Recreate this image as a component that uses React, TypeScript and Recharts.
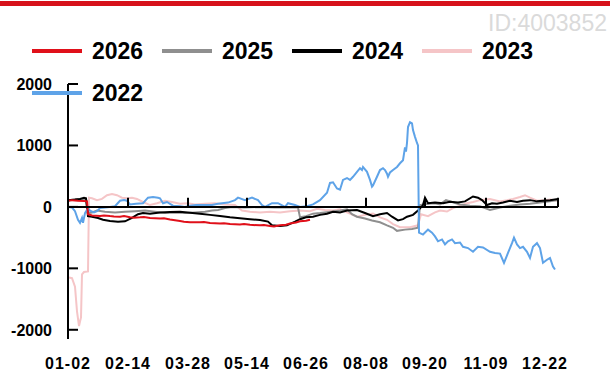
import { Legend, Line, LineChart, ReferenceLine, XAxis, YAxis } from "recharts";

const FONT = "'Liberation Sans', Arial, sans-serif";

// x = trading-day index (0..245), value = spread
const s2026 = [
  [0, 100], [2, 110], [5, 100], [8, 95], [9.5, 90], [10, -120], [12, -140], [16, -150], [18, -140],
  [21, -150], [23, -155], [26, -160], [28, -150], [31, -170], [33, -175], [36, -170], [38, -165],
  [41, -180], [46, -190], [48, -185], [51, -205], [56, -230], [58, -240], [61, -250], [66, -250],
  [68, -245], [71, -262], [76, -272], [78, -265], [81, -280], [86, -285], [88, -280], [91, -292],
  [96, -300], [98, -295], [101, -310], [103, -320], [106, -300], [109, -290], [111, -270],
  [114, -255], [116, -235], [119, -225], [121, -210],
];

const s2025 = [
  [0, 100], [3.5, 120], [6, 130], [9, 120], [10, -100], [12, -90], [14.5, -60], [18.5, -80],
  [23.5, -90], [28.5, -80], [33.5, -70], [38.5, -60], [43.5, -80], [48.5, -100], [53.5, -90],
  [58.5, -100], [63.5, -90], [68.5, -80], [72, -60], [75, -50], [78.5, -20], [82, 0], [88.5, -10],
  [96, 0], [103.5, -10], [111, -5], [115, -10], [116, -170], [119, -150], [122.5, -110], [126, -100],
  [132.5, -75], [136, -60], [139.5, -40], [142, -120], [144.5, -160], [148.5, -190], [152, -220],
  [156, -250], [159.5, -300], [162.5, -340], [164.5, -390], [168.5, -370], [172, -360], [175, -340],
  [176, 30], [180, 50], [183.5, 60], [186, 40], [189, 110], [192, 80], [196, 40], [201, 20],
  [206, 10], [208.5, -20], [211, -50], [213.5, -30], [216, -10], [221, 20], [226, 40], [231, 50],
  [236, 70], [241, 90], [245, 110],
];

const s2024 = [
  [0, 110], [3.5, 120], [6, 130], [8, 150], [9, 140], [10, -150], [12, -160], [15, -180],
  [17.5, -210], [21, -230], [25, -240], [28.5, -235], [32, -180], [35, -120], [37.5, -100],
  [41, -110], [46, -90], [51, -85], [56, -80], [61, -95], [66, -110], [71, -130], [76, -150],
  [81, -170], [86, -185], [91, -200], [96, -215], [100, -240], [102, -300], [106, -310],
  [109.5, -300], [113.5, -240], [116, -200], [119, -170], [122.5, -160], [126, -130],
  [129.5, -110], [132.5, -80], [136, -90], [139.5, -60], [144.5, -50], [148.5, -100],
  [152.5, -150], [156, -120], [159.5, -100], [162, -160], [165, -220], [167.5, -200],
  [169.5, -160], [172.5, -130], [175, -60], [177.5, 30], [178.5, 150], [180, 60], [183.5, 70],
  [187.5, 60], [191, 85], [195, 70], [198.5, 90], [202.5, 170], [205, 150], [207, 110],
  [209.5, 30], [212, 60], [214.5, 50], [217.5, 70], [221, 100], [224.5, 80], [227.5, 100],
  [231, 110], [234.5, 90], [237.5, 100], [241, 110], [245, 130],
];

const s2023 = [
  [0.5, -1150], [2, -1160], [3.5, -1300], [4.5, -1700], [5.5, -1940], [6.5, -1800], [7, -1100],
  [8, -1060], [10, -1050], [10.5, 150], [12, 140], [14.5, 110], [17, 130], [19.5, 190], [22, 210],
  [24.5, 190], [27, 150], [29.5, 140], [32, 150], [34.5, 130], [37.5, 80], [41, 30], [44.5, 60],
  [48.5, 100], [52, 80], [56, 50], [60, 60], [63.5, 40], [68.5, 50], [73.5, 60], [78.5, 40],
  [83.5, 30], [87, -60], [91, -80], [96, -90], [101, -80], [106, -90], [111, -70], [116, -60],
  [121, -70], [124.5, -30], [128.5, -50], [132.5, -60], [136, -40], [139.5, -90], [144.5, -160],
  [148.5, -130], [152.5, -110], [156, -170], [159.5, -210], [162.5, -280], [166, -330],
  [171, -330], [175, -300], [176.5, -120], [180, -150], [183.5, -90], [186, -60], [189.5, -75],
  [192.5, -20], [196, 20], [199.5, 60], [202.5, 80], [206, 110], [211, 130], [216, 90],
  [219.5, 110], [222.5, 130], [226, 160], [228.5, 190], [231, 150], [234.5, 100], [238.5, 110],
  [241, 120], [245, 100],
];

const s2022 = [
  [0, 0], [2, -10], [3.5, -70], [5, -210], [6, -260], [7, -180], [7.5, -260], [8.5, -100],
  [10, -20], [11, -60], [13, -90], [14.5, -70], [16, -20], [18.5, -10], [21, 0], [23.5, 10],
  [26, 100], [28, 110], [29.5, 100], [31, 40], [34, 50], [37.5, 60], [40, 150], [42.5, 160],
  [45, 150], [46, 140], [47.5, 60], [49.5, 80], [52.5, 20], [56, 10], [58.5, 0], [61, 20],
  [64, 30], [68.5, 30], [72, 30], [75, 50], [77, 60], [80, 70], [83.5, 110], [85, 150],
  [88.5, 110], [92, 150], [95, 110], [97, 30], [98.5, 0], [102, 60], [105, 60], [108.5, 0],
  [110, 60], [113.5, 30], [116, 0], [119.5, 10], [122.5, 40], [126, 110], [129.5, 230],
  [131, 390], [132.5, 400], [134.5, 300], [136, 280], [137.5, 440], [139.5, 470], [141, 440],
  [142.5, 490], [144.5, 570], [146, 630], [147, 600], [147.5, 650], [148.5, 610], [149.5, 570],
  [151, 440], [152, 330], [152.5, 350], [154.5, 490], [156, 600], [157.5, 630], [158.5, 600],
  [159.5, 540], [160, 490], [161, 560], [162.5, 600], [164.5, 650], [166, 710], [167.5, 760],
  [168.5, 970], [169, 900], [169.5, 1040], [170, 1300], [171, 1380], [172, 1360], [172.5, 1250],
  [173.5, 1140], [174.5, 1040], [175, 1000], [175.5, -420], [177.5, -450], [180, -370],
  [182, -420], [183.5, -480], [185, -560], [187, -530], [188.5, -610], [190, -560], [192, -530],
  [193.5, -590], [196, -580], [197.5, -650], [200, -670], [202.5, -730], [205, -650],
  [207.5, -660], [211, -730], [213.5, -750], [216, -760], [218, -910], [220, -750], [222, -590],
  [223, -500], [224.5, -610], [226, -670], [227.5, -650], [229.5, -730], [231, -830],
  [232.5, -650], [234.5, -590], [236, -670], [237.5, -910], [239.5, -860], [241, -830],
  [242.5, -970], [243.5, -1020],
];

const xTicks = [0, 30, 60, 89.5, 119, 149, 178.5, 209, 238.5];
const xEnd = 245;
const xLabels = ["01-02", "02-14", "03-28", "05-14", "06-26", "08-08", "09-20", "11-09", "12-22"];
const yTicks = [-2000, -1000, 0, 1000, 2000];

const series = [
  { name: "2026", color: "#e0101a", data: s2026 },
  { name: "2025", color: "#8f8f8f", data: s2025 },
  { name: "2024", color: "#000000", data: s2024 },
  { name: "2023", color: "#f5c5c7", data: s2023 },
  { name: "2022", color: "#5ea3e8", data: s2022 },
];
const drawOrder = ["2023", "2025", "2024", "2022", "2026"];

const toRows = (pts: number[][]) => pts.map(([d, v]) => ({ d, v }));

const YTick = (props: any) => {
  const { x, y, payload } = props;
  return (
    <g>
      <line x1={x} x2={x + 10} y1={y} y2={y} stroke="#000" strokeWidth={2} />
      <text x={x - 16} y={y} dy="0.36em" textAnchor="end" fontSize={16} fontWeight="bold" fontFamily={FONT} fill="#000">
        {payload.value}
      </text>
    </g>
  );
};

const LegendContent = () => (
  <div style={{ display: "flex", flexWrap: "wrap", width: 530 }}>
    {series.map((s) => (
      <div key={s.name} style={{ display: "flex", alignItems: "center", width: 130, height: 42 }}>
        <span style={{ display: "inline-block", width: 50, height: 4, background: s.color, marginRight: 10 }} />
        <span style={{ fontSize: 23, fontWeight: "bold", fontFamily: FONT, color: "#000" }}>{s.name}</span>
      </div>
    ))}
  </div>
);

const App = () => {
  return (
    <div style={{ position: "absolute", left: 0, top: 0, width: 610, height: 376, background: "#fff" }}>
      <div style={{ position: "absolute", left: 0, top: 1, width: 610, height: 5, background: "#d7121b" }} />
      <div
        style={{
          position: "absolute",
          right: 3,
          top: 10,
          fontSize: 23,
          fontFamily: FONT,
          color: "#dadada",
        }}
      >
        ID:4003852
      </div>
      <LineChart width={610} height={376} margin={{ top: 84, right: 52, left: 0, bottom: 0 }}>
        <XAxis
          dataKey="d"
          type="number"
          domain={[0, xEnd]}
          ticks={xTicks}
          tickFormatter={(_v: number, i: number) => xLabels[i]}
          axisLine={false}
          tickLine={false}
          tickMargin={13}
          height={37}
          interval={0}
          tick={{ fontSize: 16, fontWeight: "bold", fontFamily: FONT, fill: "#000", letterSpacing: 1 }}
        />
        <YAxis
          type="number"
          domain={[-2150, 2000]}
          ticks={yTicks}
          allowDataOverflow
          width={68}
          tickSize={0}
          tickMargin={0}
          tickLine={false}
          axisLine={{ stroke: "#000", strokeWidth: 2 }}
          tick={<YTick />}
          interval={0}
        />
        <Legend
          layout="horizontal"
          verticalAlign="middle"
          align="center"
          content={<LegendContent />}
          wrapperStyle={{ top: 30, left: 32, width: 530 }}
        />
        {drawOrder.map((name) => {
          const s = series.find((x) => x.name === name)!;
          return (
            <Line
              key={s.name}
              data={toRows(s.data)}
              dataKey="v"
              name={s.name}
              type="linear"
              stroke={s.color}
              strokeWidth={2}
              dot={false}
              isAnimationActive={false}
            />
          );
        })}
        <ReferenceLine y={0} stroke="#000" strokeWidth={2} />
        {[...xTicks.slice(1), xEnd].map((t) => (
          <ReferenceLine
            key={t}
            segment={[
              { x: t, y: 0 },
              { x: t, y: 150 },
            ]}
            stroke="#000"
            strokeWidth={2}
          />
        ))}
      </LineChart>
    </div>
  );
};

export default App;
